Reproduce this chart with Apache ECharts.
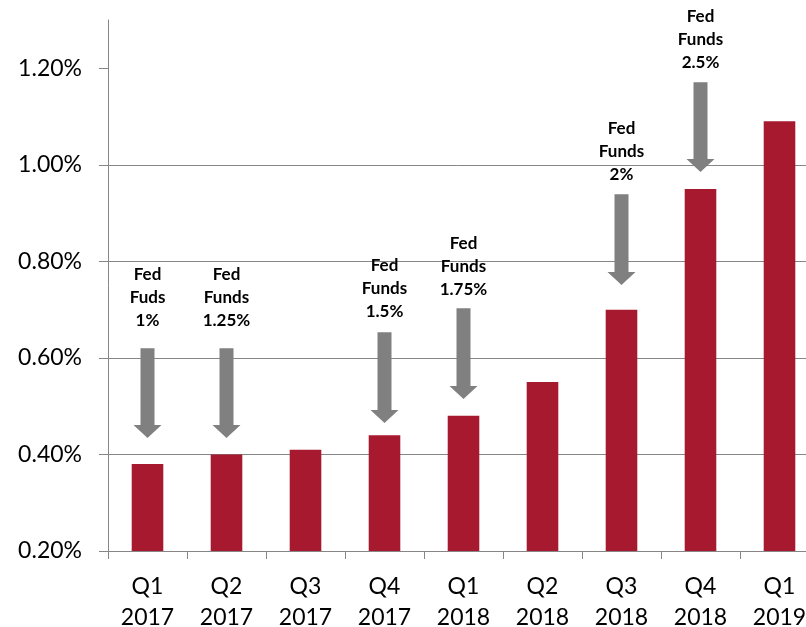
<!DOCTYPE html>
<html>
<head>
<meta charset="utf-8">
<style>
  html, body { margin: 0; padding: 0; background: #fff; }
  #chart { width: 806px; height: 627px; }
</style>
<script src="https://cdn.jsdelivr.net/npm/echarts@6/dist/echarts.min.js"></script>
</head>
<body>
<div id="chart"></div>
<script>
// Quarterly rate (%) with Fed Funds hike annotations
const categories = ['Q1\n2017', 'Q2\n2017', 'Q3\n2017', 'Q4\n2017', 'Q1\n2018', 'Q2\n2018', 'Q3\n2018', 'Q4\n2018', 'Q1\n2019'];
const rates = [0.38, 0.40, 0.41, 0.44, 0.48, 0.55, 0.70, 0.95, 1.09];
const yTicks = [0.2, 0.4, 0.6, 0.8, 1.0, 1.2];

// Fed Funds hike notes: category index, arrow start, arrow tip, text baseline level
const hikeIndex = [0, 1, 3, 4, 6, 7];
const hikeText = ['Fed\nFuds\n1%', 'Fed\nFunds\n1.25%', 'Fed\nFunds\n1.5%', 'Fed\nFunds\n1.75%', 'Fed\nFunds\n2%', 'Fed\nFunds\n2.5%'];
const arrowFrom = [0.620, 0.620, 0.653, 0.703, 0.939, 1.171];
const arrowTo = [0.434, 0.434, 0.465, 0.515, 0.751, 0.985];
const noteLevel = [0.654, 0.654, 0.673, 0.717, 0.957, 1.189];

const hikeData = hikeIndex.map((c, i) => [c, arrowFrom[i], arrowTo[i], noteLevel[i], hikeText[i]]);

const chart = echarts.init(document.getElementById('chart'));
const axisGray = '#868686';

chart.setOption({
  animation: false,
  grid: { left: 108, right: -13, top: 20, bottom: 76, containLabel: false, outerBoundsMode: 'none' },
  xAxis: {
    type: 'category',
    data: categories,
    axisLine: { lineStyle: { color: axisGray, width: 1 } },
    axisTick: { show: true, length: 8, lineStyle: { color: axisGray } },
    axisLabel: {
      color: '#000', fontFamily: 'Lato', fontSize: 23, lineHeight: 31, margin: 20
    }
  },
  yAxis: {
    type: 'value',
    min: 0.2,
    max: 1.3,
    interval: 0.2,
    axisLine: { show: true, lineStyle: { color: axisGray, width: 1 } },
    axisTick: { show: true, length: 9, lineStyle: { color: axisGray }, customValues: yTicks },
    axisLabel: {
      color: '#000', fontFamily: 'Lato', fontSize: 23, margin: 26,
      customValues: yTicks,
      formatter: v => v.toFixed(2) + '%'
    },
    splitLine: { show: true, showMaxLine: false, lineStyle: { color: axisGray, width: 1 } }
  },
  series: [
    {
      type: 'bar',
      data: rates,
      barWidth: '40%',
      itemStyle: { color: '#A6192E' },
      z: 2
    },
    {
      type: 'custom',
      data: hikeData,
      encode: { x: 0, y: [1, 2] },
      z: 3,
      renderItem: (params, api) => {
        const idx = api.value(0);
        const from = api.coord([idx, api.value(1)]);
        const to = api.coord([idx, api.value(2)]);
        const note = api.coord([idx, api.value(3)]);
        const x = from[0];
        const shaft = 7, head = 14, headH = 13;
        const neck = to[1] - headH;
        return {
          type: 'group',
          children: [
            {
              type: 'polygon',
              shape: {
                points: [
                  [x - shaft, from[1]], [x + shaft, from[1]], [x + shaft, neck],
                  [x + head, neck], [x, to[1]], [x - head, neck], [x - shaft, neck]
                ]
              },
              style: { fill: '#808080' }
            },
            {
              type: 'text',
              x: x,
              y: note[1],
              style: {
                text: hikeData[params.dataIndex][4],
                fill: '#000',
                font: 'bold 17px Lato',
                lineHeight: 23,
                align: 'center',
                verticalAlign: 'bottom'
              }
            }
          ]
        };
      }
    }
  ]
});
</script>
</body>
</html>
